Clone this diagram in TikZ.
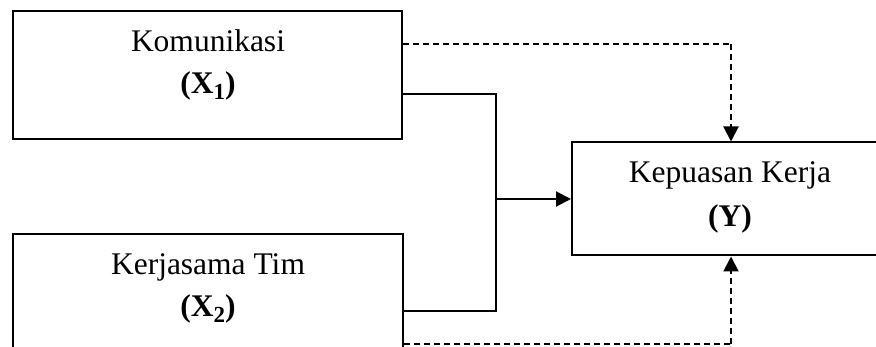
\documentclass[tikz,border=0pt]{standalone}
\usepackage{fontspec}
\setmainfont{Liberation Serif}
\usetikzlibrary{arrows.meta}
\newcommand{\mysub}[1]{\raisebox{-0.18em}{\fontsize{23}{23}\selectfont\bfseries #1}}
\tikzset{
  box/.style={draw, line width=2pt, rectangle, inner sep=0pt},
  lbl/.style={anchor=base, inner sep=0pt, font=\fontsize{31.5}{36}\selectfont},
  conn/.style={line width=2pt},
  dconn/.style={line width=2pt, dash pattern=on 6pt off 4pt},
  tip/.style={-{Triangle[width=15pt,length=15pt]}}
}
\begin{document}
\begin{tikzpicture}[x=1pt,y=-1pt]
\useasboundingbox (0,0) rectangle (876,347);
\clip (0,0) rectangle (876,347);
\node[box, minimum width=389pt, minimum height=128pt] (x1) at (207.5,75) {};
\node[box, minimum width=390pt, minimum height=128pt] (x2) at (208,298) {};
\node[box, minimum width=318pt, minimum height=113pt] (y) at (731,199) {};
\node[lbl] (t1) at (208,52) {Komunikasi};
\node[lbl] (t1b) at (208,94) {\textbf{(X}\mysub{1}\textbf{)}};
\node[lbl] (t2) at (208,275) {Kerjasama Tim};
\node[lbl] (t2b) at (208,317) {\textbf{(X}\mysub{2}\textbf{)}};
\node[lbl] (t3) at (730,183) {Kepuasan Kerja};
\node[lbl] (t3b) at (730,227) {\textbf{(Y)}};
\coordinate (j1) at (496,94);
\coordinate (j2) at (496,311);
\coordinate (jm) at (496,199);
\coordinate (d1) at (731,44);
\coordinate (d2) at (731,344);
\draw[conn] (x1.east |- j1) -- (j1) -- (j2) -- (x2.east |- j2);
\draw[conn, tip] (jm) -- (y.west);
\draw[dconn] (x1.east |- d1) -- (d1);
\draw[dconn, tip] (d1) -- (y.north);
\draw[dconn] (x2.east |- d2) -- (d2);
\draw[dconn, tip] (d2) -- (y.south);
\end{tikzpicture}
\end{document}
